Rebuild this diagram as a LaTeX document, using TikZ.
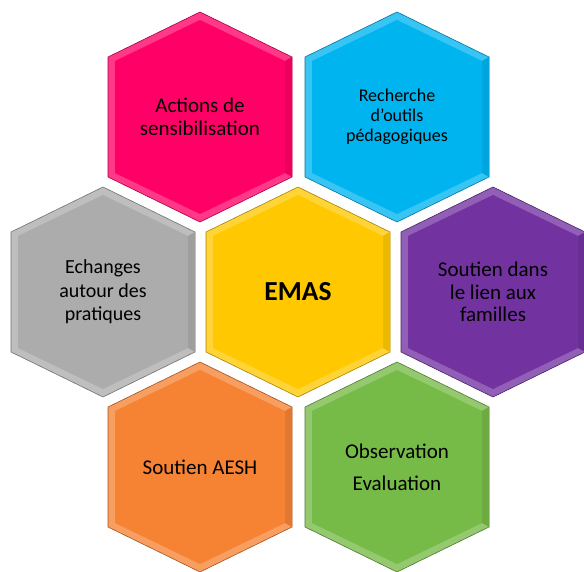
\documentclass[tikz,border=0pt]{standalone}
\usepackage{fontspec}
\setmainfont{Carlito}
\usepackage{tikz}
\usetikzlibrary{calc}

\definecolor{hexpink}{RGB}{255,0,102}
\definecolor{hexcyan}{RGB}{0,180,240}
\definecolor{hexgray}{RGB}{172,172,172}
\definecolor{hexyellow}{RGB}{255,200,0}
\definecolor{hexpurple}{RGB}{114,50,160}
\definecolor{hexorange}{RGB}{246,130,52}
\definecolor{hexgreen}{RGB}{118,186,72}

% one bevelled hexagon: centre, colour
\newcommand{\hexcell}[2]{%
	\fill[#2!78!white,draw=#2!65!black,line width=.6pt]
		(#1) ++(0,105) -- ++(92,-45) -- ++(0,-120) -- ++(-92,-45) -- ++(-92,45) -- ++(0,120) -- cycle;
	\fill[#2!92!black] (#1) ++(92,60) -- ++(0,-120) -- ++(-7,4) -- ++(0,112) -- cycle;
	\fill[#2] (#1) ++(0,97) -- ++(85,-41) -- ++(0,-112) -- ++(-85,-41) -- ++(-85,41) -- ++(0,112) -- cycle;
}

\begin{document}
\begin{tikzpicture}
		[x=1pt,y=1pt,
		%Styles
		cell text/.style={text=black,align=center,font=\fontsize{21}{22.5}\selectfont},
		small text/.style={cell text,font=\fontsize{18}{20}\selectfont},
		wide text/.style={cell text,font=\fontsize{21}{32}\selectfont},
		main text/.style={cell text,font=\fontsize{27.5}{30}\selectfont\bfseries}
		]
		
		\useasboundingbox (0,0) rectangle (584,571);
		
		%Centres
		\coordinate (sens) at (200,454);
		\coordinate (outils) at (397,454);
		\coordinate (echanges) at (103,279);
		\coordinate (centre) at (298,279);
		\coordinate (familles) at (493,279);
		\coordinate (aesh) at (200,104);
		\coordinate (observ) at (397,104);
		
		%The graphic
		\hexcell{sens}{hexpink}
		\hexcell{outils}{hexcyan}
		\hexcell{echanges}{hexgray}
		\hexcell{centre}{hexyellow}
		\hexcell{familles}{hexpurple}
		\hexcell{aesh}{hexorange}
		\hexcell{observ}{hexgreen}
		
		\node[cell text] (t-sens) at (sens) {Actions de\\sensibilisation};
		\node[small text] (t-outils) at (outils) {Recherche\\d’outils\\pédagogiques};
		\node[cell text,font=\fontsize{20}{23.5}\selectfont] (t-echanges) at (echanges) {Echanges\\autour des\\pratiques};
		\node[main text] (t-centre) at (centre) {EMAS};
		\node[cell text] (t-familles) at (familles) {Soutien dans\\le lien aux\\familles};
		\node[cell text] (t-aesh) at (aesh) {Soutien AESH};
		\node[wide text] (t-observ) at (observ) {Observation\\Evaluation};
	\end{tikzpicture}
\end{document}
